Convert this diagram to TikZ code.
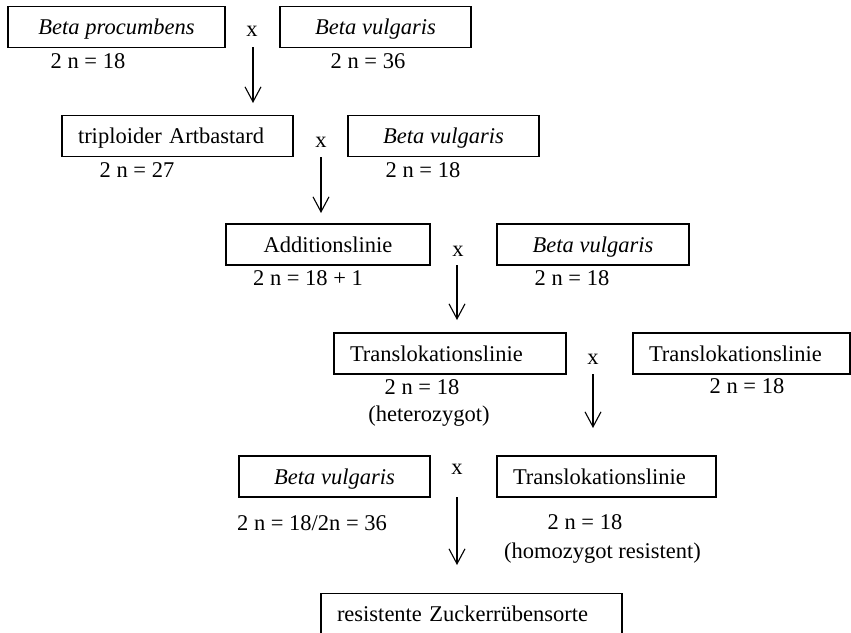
\documentclass[tikz,border=0pt]{standalone}
\usepackage{fontspec}
\setmainfont{Liberation Serif}
\usetikzlibrary{arrows.meta}

\begin{document}
\begin{tikzpicture}[x=1pt,y=-1pt,>={Straight Barb[length=15pt,width=16pt]},font=\fontsize{22.5}{26}\selectfont,
    kasten/.style={draw,line width=1.1pt,minimum height=41pt,text height=15pt,text depth=0pt,minimum width=#1},
    lkasten/.style={draw,line width=1.1pt,minimum height=41pt,text height=15pt,text depth=0pt,inner xsep=16pt,align=left,text width=#1}]
    \useasboundingbox (0,0) rectangle (851,632);
    \clip (0,0) rectangle (851,632);% unterer Kasten ist angeschnitten
    \node (proc) [kasten=217pt] at (116.5,27) {\textit{Beta procumbens}};
    \node (vulgA) [kasten=191pt] at (375.5,27) {\textit{Beta vulgaris}};
    \node (xA) at (252,31) {x};
    \node (procN) at (88,61) {2 n = 18};
    \node (vulgAN) at (368,61) {2 n = 36};

    \node (tri) [lkasten=199pt] at (177.5,136) {triploider Artbastard};
    \node (vulgB) [kasten=191pt] at (443.5,136) {\textit{Beta vulgaris}};
    \node (xB) at (321,142) {x};
    \node (triN) at (137,170) {2 n = 27};
    \node (vulgBN) at (423,170) {2 n = 18};

    \node (add) [kasten=204pt] at (328,244.5) {Additionslinie};
    \node (vulgC) [kasten=192pt] at (593,244.5) {\textit{Beta vulgaris}};
    \node (xC) at (458,251) {x};
    \node (addN) at (308,278) {2 n = 18 + 1};
    \node (vulgCN) at (572,278) {2 n = 18};

    \node (transA) [lkasten=200pt] at (450,353.5) {Translokationslinie};
    \node (transB) [lkasten=185pt] at (741.5,353.5) {Translokationslinie};
    \node (xD) at (593,359) {x};
    \node (transAN) at (422,387) {2 n = 18};
    \node (transAH) at (429,416) {(heterozygot)};
    \node (transBN) at (747,386) {2 n = 18};

    \node (vulgD) [kasten=191pt] at (334.5,476.5) {\textit{Beta vulgaris}};
    \node (transC) [lkasten=187pt] at (606.5,476.5) {Translokationslinie};
    \node (xE) at (457,469) {x};
    \node (vulgDN) at (312,523) {2 n = 18/2n = 36};
    \node (transCN) at (585,522.5) {2 n = 18};
    \node (transCH) at (602.5,553) {(homozygot resistent)};

    \node (sorte) [lkasten=269pt] at (471.5,614) {resistente Zuckerrübensorte};

    \coordinate (sA) at (253,47);  \coordinate (eA) at (253,103);
    \coordinate (sB) at (321,157); \coordinate (eB) at (321,213);
    \coordinate (sC) at (457,265); \coordinate (eC) at (457,320);
    \coordinate (sD) at (593,374); \coordinate (eD) at (593,428);
    \coordinate (sE) at (457,497); \coordinate (eE) at (457,565);
    \draw [line width=1.1pt,->] (sA) -- (eA);
    \draw [line width=1.1pt,->] (sB) -- (eB);
    \draw [line width=1.1pt,->] (sC) -- (eC);
    \draw [line width=1.1pt,->] (sD) -- (eD);
    \draw [line width=1.1pt,->] (sE) -- (eE);
\end{tikzpicture}
\end{document}
